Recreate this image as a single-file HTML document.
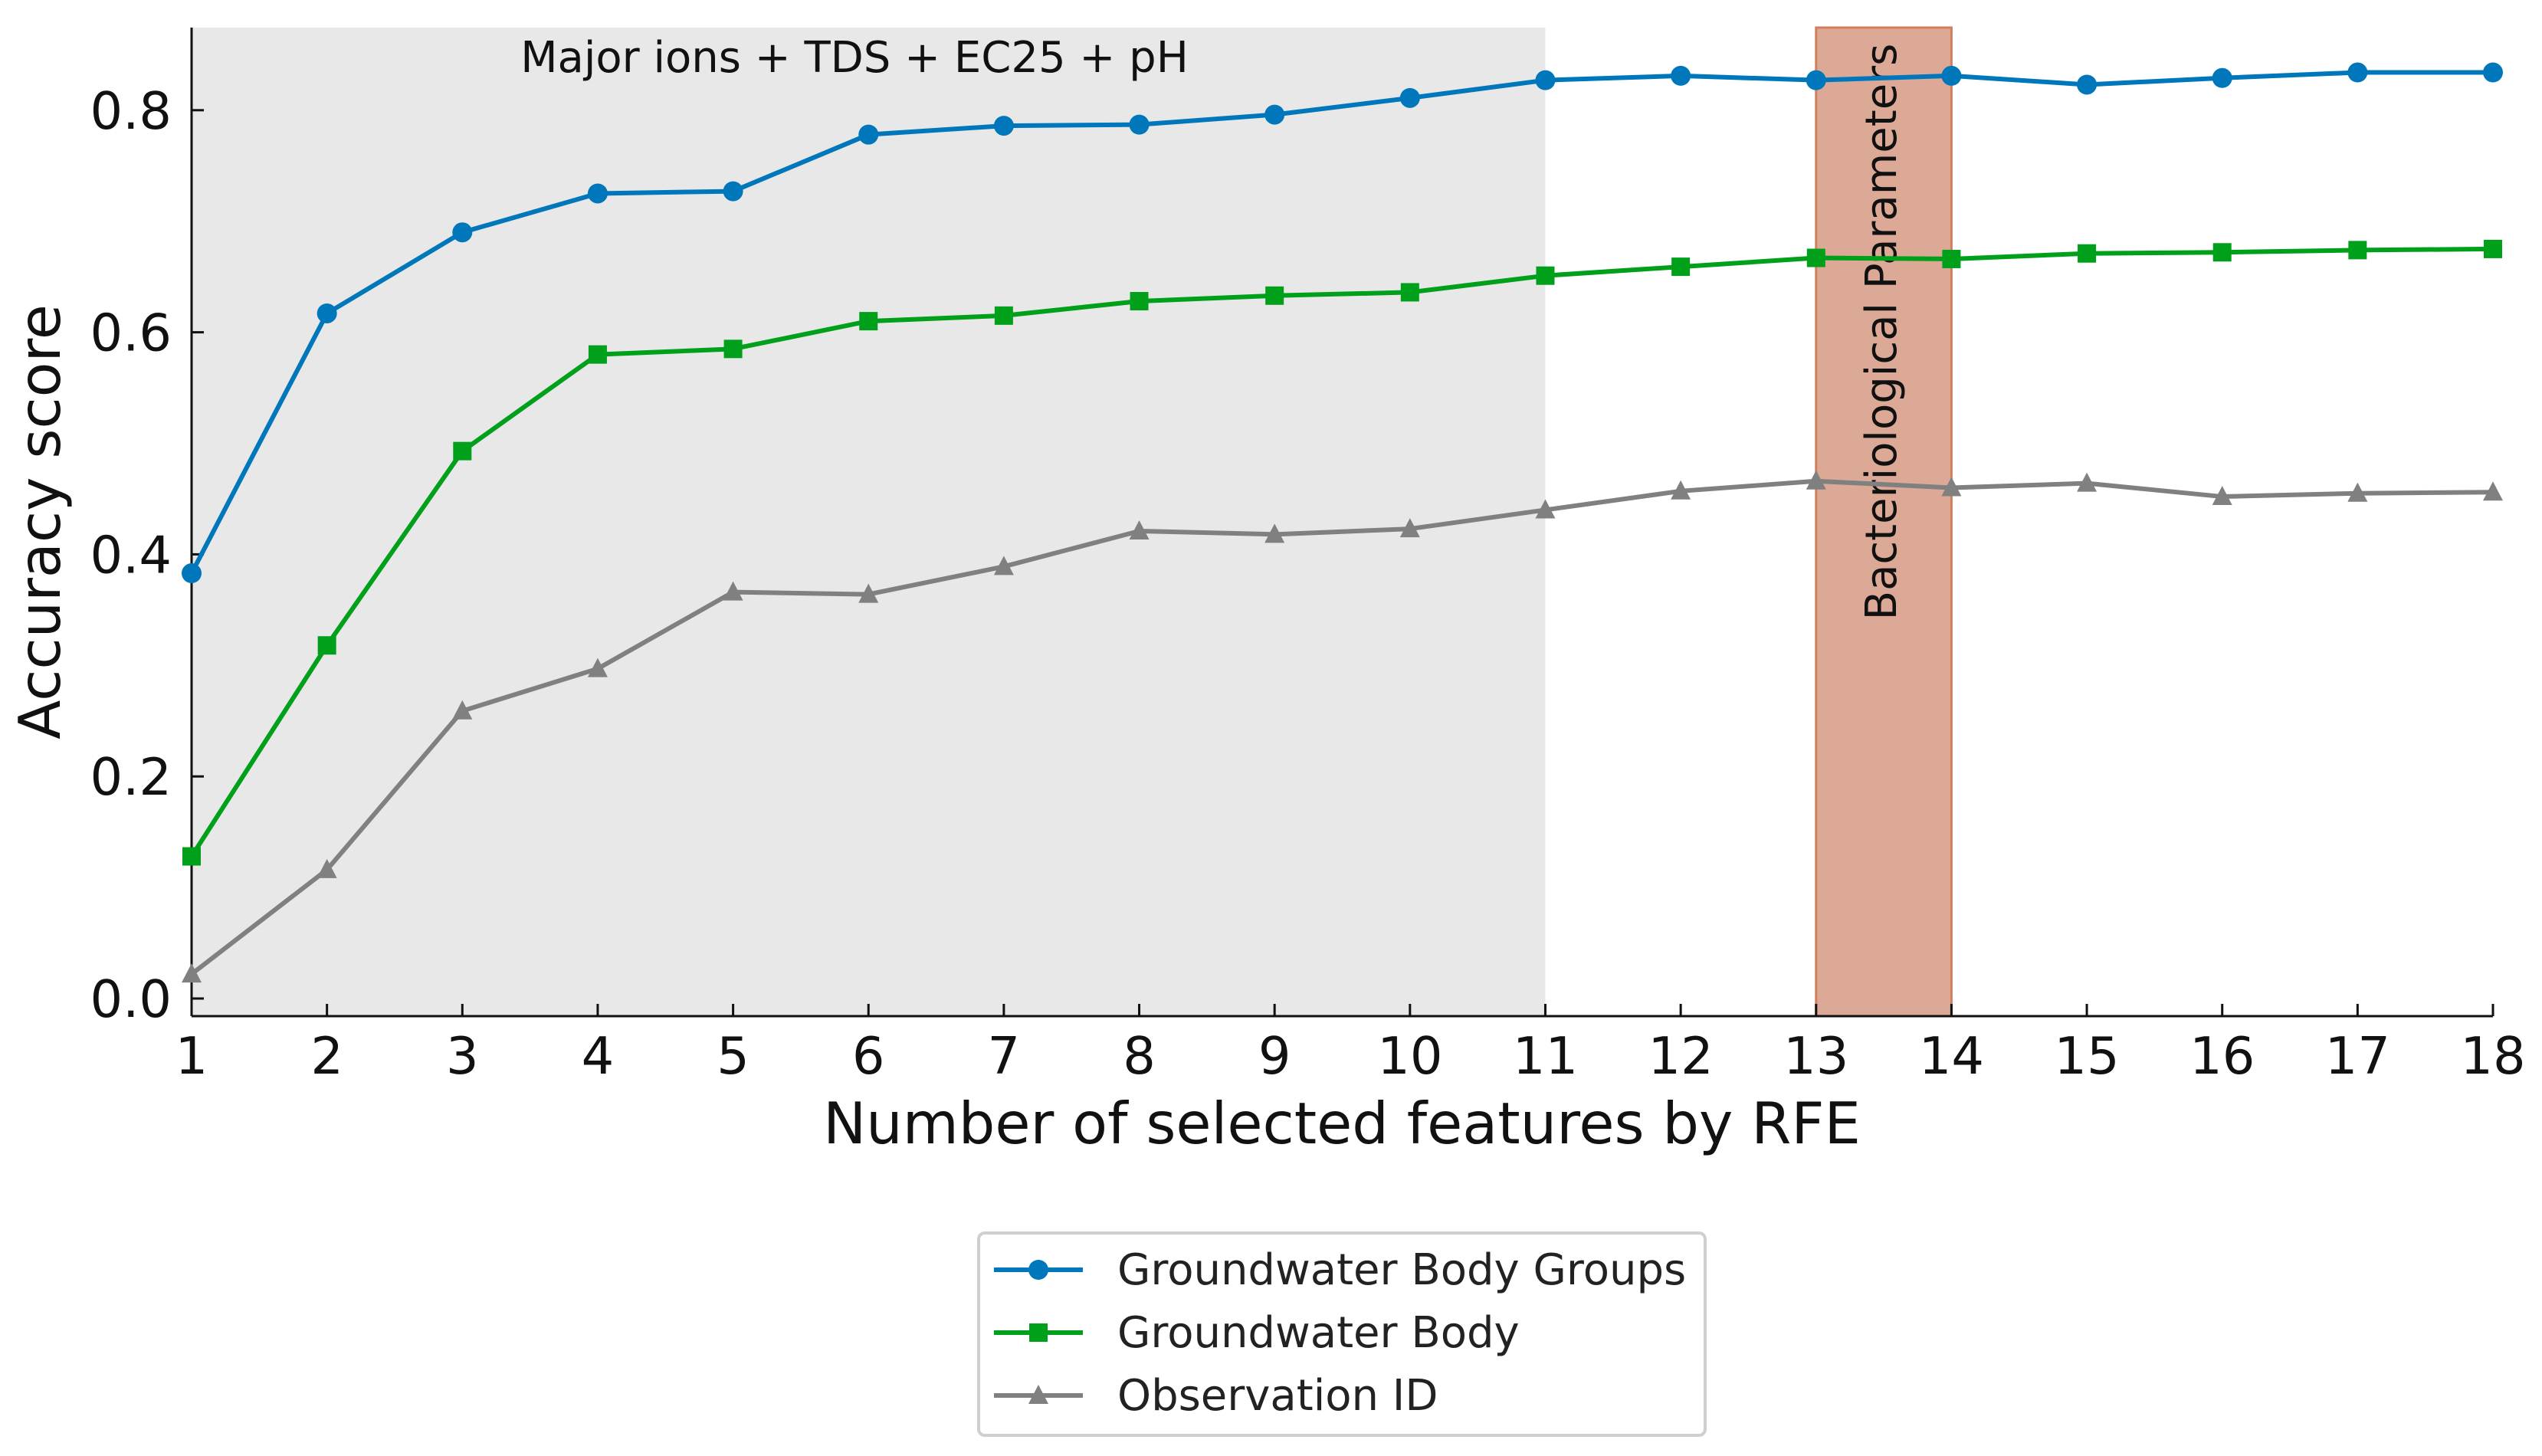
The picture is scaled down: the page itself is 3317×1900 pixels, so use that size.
<!DOCTYPE html>
<html><head><meta charset="utf-8"><style>
html,body{margin:0;padding:0;background:#fff;}
svg{display:block;font-family:"DejaVu Sans","Liberation Sans",sans-serif;}
</style></head><body>
<svg id="chart" width="3317" height="1900" viewBox="0 0 3317 1900">
<g id="bg"></g><g id="axes"></g><g id="series"></g><g id="legend"></g>
</svg>
<script>
const categories=[1,2,3,4,5,6,7,8,9,10,11,12,13,14,15,16,17,18];
const seriesGroups=[0.383,0.617,0.690,0.725,0.727,0.778,0.786,0.787,0.796,0.811,0.827,0.831,0.827,0.831,0.823,0.829,0.834,0.834];
const seriesBody=[0.128,0.318,0.493,0.580,0.585,0.610,0.615,0.628,0.633,0.636,0.651,0.659,0.667,0.666,0.671,0.672,0.674,0.675];
const seriesObs=[0.022,0.116,0.259,0.297,0.366,0.364,0.389,0.421,0.418,0.423,0.440,0.457,0.466,0.460,0.464,0.452,0.455,0.456];
const yTicks=[0.0,0.2,0.4,0.6,0.8];
const yTickLabels=["0.0","0.2","0.4","0.6","0.8"];
const xTicks=[1,2,3,4,5,6,7,8,9,10,11,12,13,14,15,16,17,18];
const shadeRange=[1,11];
const bandRange=[13,14];

const NS="http://www.w3.org/2000/svg";
const L=250,R=3253,T=36,B=1326;
const X=v=>L+(v-1)*(R-L)/17;
const Y=v=>1303-v*1449;
function mk(tag,attrs,parent){const e=document.createElementNS(NS,tag);for(const k in attrs)e.setAttribute(k,attrs[k]);parent.appendChild(e);return e;}
const bg=document.getElementById('bg'),ax=document.getElementById('axes'),sg=document.getElementById('series'),lg=document.getElementById('legend');

let r=mk('rect',{x:X(shadeRange[0]),y:T,width:X(shadeRange[1])-X(shadeRange[0]),height:B-T,fill:'#e8e8e8'},bg);


r=mk('rect',{x:X(bandRange[0]),y:T,width:X(bandRange[1])-X(bandRange[0]),height:B-T,fill:'#dba995',stroke:'#d0805f','stroke-width':3},bg);


let t=mk('text',{x:1115,y:94,'font-size':56,'text-anchor':'middle',fill:'#111'},bg);t.textContent='Major ions + TDS + EC25 + pH';


t=mk('text',{x:0,y:0,'font-size':56,'text-anchor':'middle',fill:'#111',transform:'translate(2474,433) rotate(-90)'},bg);t.textContent='Bacteriological Parameters';



let a=mk('line',{x1:L,y1:T,x2:L,y2:B,stroke:'#111','stroke-width':3},ax);


a=mk('line',{x1:L,y1:B,x2:R,y2:B,stroke:'#111','stroke-width':3},ax);


yTicks.forEach((v,i)=>{
 mk('line',{x1:L,y1:Y(v),x2:L+16,y2:Y(v),stroke:'#111','stroke-width':3},ax);
 const tl=mk('text',{x:224,y:Y(v)+24,'font-size':67,'text-anchor':'end',fill:'#111'},ax);tl.textContent=yTickLabels[i];
 
 
});
xTicks.forEach(v=>{
 mk('line',{x1:X(v),y1:B,x2:X(v),y2:B-16,stroke:'#111','stroke-width':3},ax);
 const tl=mk('text',{x:X(v),y:1401,'font-size':67,'text-anchor':'middle',fill:'#111'},ax);tl.textContent=v;
 
 
});
t=mk('text',{x:1751,y:1492,'font-size':75,'text-anchor':'middle',fill:'#111'},ax);t.textContent='Number of selected features by RFE';


t=mk('text',{x:0,y:0,'font-size':75,'text-anchor':'middle',fill:'#111',transform:'translate(78,681) rotate(-90)'},ax);t.textContent='Accuracy score';



function marker(kind,cx,cy,col,parent){
 if(kind==='circle')return mk('circle',{cx:cx,cy:cy,r:13,fill:col},parent);
 if(kind==='square')return mk('rect',{x:cx-12,y:cy-12,width:24,height:24,fill:col},parent);
 return mk('polygon',{points:`${cx},${cy-14} ${cx-13},${cy+11} ${cx+13},${cy+11}`,fill:col},parent);
}
const defs=[[seriesGroups,'#0077bb','circle','groundwater-body-groups'],[seriesBody,'#00a01a','square','groundwater-body'],[seriesObs,'#808080','triangle','observation-id']];
defs.forEach(([vals,col,kind,name])=>{
 const g=mk('g',{},sg);
 
 
 const p=mk('polyline',{points:vals.map((v,i)=>X(categories[i])+','+Y(v)).join(' '),fill:'none',stroke:col,'stroke-width':6,'stroke-linejoin':'round'},g);
 
 
 vals.forEach((v,i)=>{
  const m=marker(kind,X(categories[i]),Y(v),col,g);
  
  
 });
});

const box=mk('rect',{x:1277,y:1609,width:948,height:264,rx:8,fill:'#fff',stroke:'#cfcfcf','stroke-width':4},lg);


const labels=['Groundwater Body Groups','Groundwater Body','Observation ID'];
defs.forEach(([vals,col,kind,name],i)=>{
 const y=1657+i*82;
 const g=mk('g',{},lg);
 
 
 mk('line',{x1:1297,y1:y,x2:1413,y2:y,stroke:col,'stroke-width':6},g);
 marker(kind,1355,y,col,g);
 const tx=mk('text',{x:1458,y:y+19,'font-size':56,fill:'#222'},g);tx.textContent=labels[i];
});
</script>
</body></html>
